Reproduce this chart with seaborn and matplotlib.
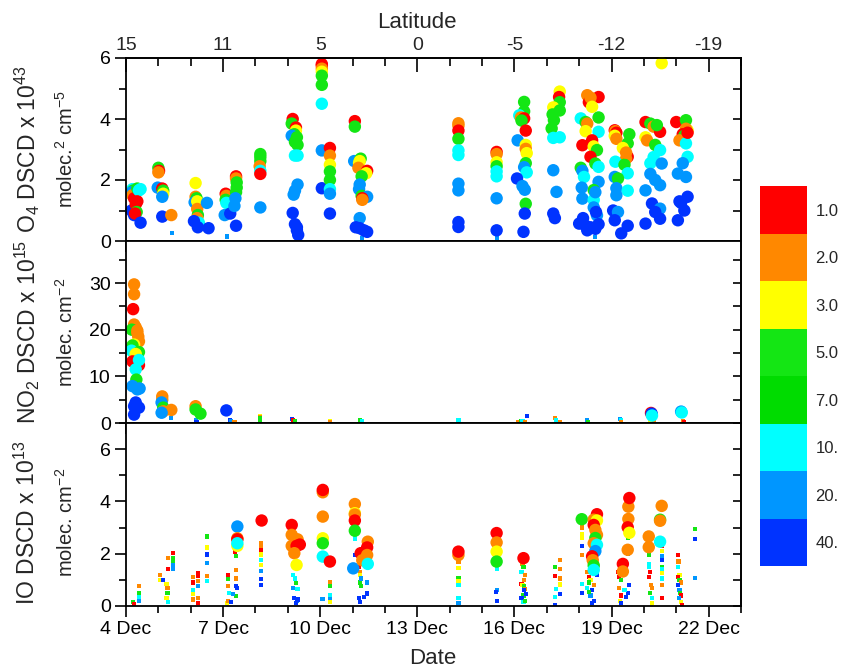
import numpy as np
import pandas as pd
import matplotlib
matplotlib.use("Agg")
import matplotlib.pyplot as plt
import seaborn as sns
from matplotlib.colors import ListedColormap, BoundaryNorm
from matplotlib.cm import ScalarMappable
from matplotlib.ticker import FixedLocator, MultipleLocator

# ---------------- categories / labels ----------------
elev_levels = [1, 2, 3, 5, 7, 10, 20, 40]
elev_labels = ["1.0", "2.0", "3.0", "5.0", "7.0", "10.", "20.", "40."]
elev_colors = ["#FF0000", "#FF8800", "#FFFF00", "#14E614", "#00DC00",
               "#00FFFF", "#0096FF", "#0033FF"]
date_ticks = [4, 7, 10, 13, 16, 19, 22]
date_labels = ["4 Dec", "7 Dec", "10 Dec", "13 Dec", "16 Dec", "19 Dec", "22 Dec"]
lat_labels = ["15", "11", "5", "0", "-5", "-12", "-19"]

# ---------------- O4 (big circles) ----------------
o4_day = [
    4.20, 4.22, 4.18, 4.20, 4.25, 4.17, 4.25, 4.35, 4.40, 4.35, 4.30, 4.33, 4.28, 4.45, 4.45,
    5.00, 5.02, 5.00, 4.98, 5.12, 5.15, 5.15, 5.12, 5.12, 5.40,
    6.15, 6.15, 6.18, 6.12, 6.20, 6.20, 6.22, 6.20, 6.25, 6.10, 6.22, 6.50, 6.55,
    7.08, 7.10, 7.08, 7.10, 7.05, 7.22, 7.40, 7.40, 7.42, 7.42, 7.40, 7.38, 7.35, 7.40,
    8.15, 8.15, 8.15, 8.13, 8.15, 8.15, 8.15,
    9.15, 9.12, 9.25, 9.25, 9.20, 9.12, 9.28, 9.22, 9.30, 9.22, 9.30, 9.30, 9.22, 9.18, 9.15, 9.22, 9.28, 9.28, 9.32,
    10.05, 10.05, 10.05, 10.05, 10.05, 10.05, 10.05, 10.05, 10.05,
    10.30, 10.30, 10.30, 10.30, 10.30, 10.30, 10.30, 10.30,
    11.07, 11.07, 11.05, 11.25, 11.22, 11.20, 11.18, 11.45, 11.42, 11.28, 11.22, 11.20, 11.28, 11.45, 11.30, 11.30, 11.22, 11.10, 11.22, 11.35, 11.45,
    14.27, 14.27, 14.27, 14.27, 14.27, 14.27, 14.27, 14.27, 14.27, 14.27,
    15.45, 15.45, 15.45, 15.45, 15.45, 15.45, 15.45, 15.45,
    16.30, 16.30, 16.15, 16.20, 16.30, 16.22, 16.35, 16.10, 16.35, 16.35, 16.38, 16.35, 16.30, 16.38, 16.08, 16.25, 16.32, 16.35, 16.32, 16.28,
    17.40, 17.38, 17.40, 17.20, 17.40, 17.18, 17.22, 17.15, 17.20, 17.40, 17.20, 17.30, 17.20, 17.25,
    18.25, 18.60, 18.30, 18.35, 18.40, 18.05, 18.60, 18.20, 18.25, 18.60, 18.20, 18.10, 18.40, 18.45, 18.55, 18.35, 18.50,
    18.60, 18.05, 18.10, 18.60, 18.15, 18.45, 18.10, 18.45, 18.55, 18.00, 18.20, 18.35, 18.60, 18.50, 18.25, 18.45,
    18.08, 18.50, 18.52, 18.12,
    19.10, 19.12, 19.15, 19.55, 19.10, 19.15, 19.50, 19.50, 19.45, 19.12, 19.40, 19.50, 19.10, 19.20, 19.15, 19.50,
    19.15, 19.05, 19.20, 19.10, 19.50, 19.30, 19.35, 19.45,
    20.05, 20.20, 20.30, 20.50, 20.05, 20.10, 20.35, 20.50, 20.30, 20.20, 20.55, 20.20, 20.35, 20.50, 20.05, 20.25,
    20.50, 20.35, 20.50, 20.05, 20.55, 20.40,
    21.00, 21.30, 21.35, 21.30, 21.20, 21.25, 21.10, 21.30, 21.35, 21.20, 21.05, 21.30, 21.35, 21.10, 21.15, 21.05, 21.25, 21.35,
]
o4_val = [
    1.70, 1.65, 1.60, 1.50, 1.40, 1.00, 0.85, 1.72, 1.66, 1.30, 1.20, 0.95, 0.90, 1.70, 0.60,
    2.40, 2.30, 2.25, 1.75, 1.72, 1.65, 1.55, 1.45, 0.80, 0.85,
    1.90, 1.45, 1.40, 1.27, 1.30, 1.05, 0.85, 0.75, 0.60, 0.65, 0.45, 1.25, 0.42,
    1.55, 1.48, 1.35, 1.25, 0.85, 0.90, 2.12, 2.05, 1.92, 1.75, 1.60, 1.40, 1.15, 0.50,
    2.85, 2.75, 2.62, 2.45, 2.30, 2.20, 1.10,
    4.00, 3.85, 3.72, 3.62, 3.50, 3.45, 3.40, 3.25, 3.15, 2.80, 2.80, 1.85, 1.65, 1.52, 0.92, 0.55, 0.45, 0.35, 0.20,
    5.80, 5.75, 5.65, 5.55, 5.42, 5.12, 4.50, 2.97, 1.73,
    3.05, 2.80, 2.50, 2.28, 2.00, 1.70, 1.55, 0.90,
    3.93, 3.75, 2.62, 2.70, 2.62, 2.55, 2.40, 2.30, 2.22, 2.12, 1.85, 1.70, 1.48, 1.45, 1.40, 1.35, 0.75, 0.45, 0.42, 0.35, 0.30,
    3.86, 3.78, 3.62, 3.35, 2.97, 2.82, 1.88, 1.66, 0.62, 0.46,
    2.92, 2.85, 2.58, 2.45, 2.28, 2.12, 1.40, 0.35,
    4.56, 4.25, 4.12, 4.05, 4.02, 3.95, 3.62, 3.30, 3.15, 3.02, 2.88, 2.55, 2.42, 2.25, 2.05, 1.80, 1.68, 1.22, 0.90, 0.30,
    4.90, 4.72, 4.55, 4.38, 4.28, 4.15, 3.96, 3.69, 3.38, 3.40, 2.32, 1.61, 0.90, 0.75,
    4.78, 4.72, 4.55, 4.70, 4.40, 4.02, 4.05, 3.90, 3.85, 3.58, 3.60, 3.14, 3.30, 3.10, 2.98, 2.76, 2.54,
    2.43, 2.40, 2.30, 1.94, 2.10, 1.67, 1.39, 1.35, 0.84, 0.57, 0.50, 0.45, 0.55, 0.40, 0.35, 1.10,
    1.75, 1.60, 0.95, 0.75,
    3.63, 3.60, 3.55, 3.50, 3.45, 3.35, 3.20, 2.76, 2.70, 2.60, 2.50, 2.22, 2.10, 2.05, 1.73, 1.65,
    1.50, 1.00, 0.95, 0.68, 0.50, 0.25, 3.05, 2.90,
    3.90, 3.85, 3.75, 3.58, 3.40, 3.30, 3.15, 2.98, 2.75, 2.55, 2.54, 2.20, 2.00, 1.83, 1.66, 1.23,
    1.06, 0.95, 0.73, 0.57, 5.83, 3.80,
    3.90, 3.96, 3.63, 3.68, 3.50, 3.45, 3.30, 3.20, 2.76, 2.55, 2.21, 2.10, 1.45, 1.30, 1.25, 0.68, 1.00, 3.55,
]
o4_elev = [
    10, 5, 20, 2, 1, 40, 40, 5, 10, 1, 1, 5, 1, 10, 40,
    5, 1, 2, 20, 1, 5, 3, 20, 40, 2,
    3, 2, 5, 20, 3, 2, 5, 2, 10, 40, 40, 20, 40,
    1, 2, 5, 10, 20, 40, 1, 2, 5, 5, 5, 20, 20, 40,
    5, 5, 5, 2, 10, 1, 20,
    1, 5, 1, 3, 5, 20, 5, 5, 5, 10, 10, 20, 20, 20, 40, 40, 40, 40, 40,
    1, 1, 2, 3, 5, 5, 10, 20, 40,
    1, 2, 3, 5, 5, 10, 20, 40,
    1, 5, 20, 5, 3, 3, 2, 1, 3, 5, 20, 20, 5, 20, 1, 2, 20, 40, 40, 40, 40,
    2, 2, 1, 5, 10, 10, 20, 20, 40, 40,
    1, 2, 3, 5, 10, 10, 20, 40,
    5, 5, 10, 2, 1, 5, 1, 20, 3, 2, 3, 5, 20, 10, 40, 20, 20, 5, 40, 40,
    3, 1, 5, 3, 5, 5, 5, 5, 10, 10, 20, 20, 40, 40,
    2, 1, 1, 2, 3, 10, 5, 5, 2, 10, 3, 1, 1, 3, 5, 1, 5,
    10, 5, 20, 20, 10, 5, 20, 10, 20, 40, 40, 40, 40, 40, 40, 20,
    20, 20, 40, 40,
    1, 2, 1, 5, 3, 2, 5, 1, 2, 10, 5, 10, 20, 5, 20, 10,
    20, 40, 20, 40, 40, 40, 3, 2,
    1, 5, 2, 1, 3, 2, 5, 10, 10, 10, 20, 20, 20, 20, 20, 40,
    20, 40, 40, 40, 3, 5,
    1, 5, 3, 2, 1, 5, 2, 10, 10, 20, 20, 20, 40, 40, 40, 40, 40, 1,
]
# O4 small squares
o4s_day = [5.41, 7.11, 11.28, 15.45, 18.50]
o4s_val = [0.26, 0.15, 0.11, 0.10, 0.12]
o4s_elev = [20, 20, 20, 20, 20]

# ---------------- NO2 ----------------
no2_day = [
    4.25, 4.25, 4.22, 4.25, 4.30, 4.18, 4.35, 4.35, 4.38, 4.40, 4.25, 4.20, 4.17, 4.40,
    4.30, 4.20, 4.40, 4.40, 4.30, 4.32, 4.20, 4.35, 4.42, 4.30, 4.25, 4.40, 4.25,
    5.12, 5.12, 5.10, 5.15, 5.15, 5.40, 5.10,
    6.15, 6.15, 6.30,
    7.10,
    20.22, 20.24, 20.25,
    21.15, 21.17,
]
no2_val = [
    29.7, 27.6, 24.4, 21.1, 20.5, 20.0, 19.8, 19.3, 18.5, 17.5, 16.8, 16.6, 15.5, 15.2,
    14.8, 13.2, 12.4, 13.5, 11.5, 9.3, 7.9, 7.2, 7.4, 4.4, 3.6, 3.3, 1.8,
    5.7, 5.0, 4.4, 3.3, 2.5, 2.8, 2.2,
    3.6, 2.9, 2.0,
    2.7,
    2.15, 2.0, 1.6,
    2.45, 2.25,
]
no2_elev = [
    2, 2, 1, 2, 2, 5, 2, 2, 2, 2, 3, 5, 10, 5,
    3, 1, 1, 10, 10, 5, 20, 20, 20, 40, 40, 40, 40,
    2, 2, 20, 5, 2, 2, 20,
    2, 5, 5,
    40,
    1, 40, 10,
    20, 10,
]
no2s_day = [5.40, 6.15, 6.18, 7.22, 7.25, 7.35, 8.15, 8.15, 8.15, 8.15, 9.12, 9.15, 9.22,
            10.30, 10.30, 11.23, 11.30, 14.27, 16.10, 16.20, 16.25, 16.38, 16.32,
            17.25, 17.28, 17.40, 18.25, 18.28, 19.25, 19.28, 19.30, 20.20, 20.30,
            21.20, 21.25]
no2s_val = [1.1, 0.6, 0.3, 0.7, 0.5, 0.2, 1.5, 1.3, 1.0, 0.6, 0.9, 0.6, 0.4,
            0.35, 0.15, 0.6, 0.5, 0.6, 0.3, 0.5, 0.5, 1.5, 0.2,
            1.1, 0.7, 0.3, 0.6, 0.3, 0.9, 0.6, 0.25, 0.3, 0.3,
            0.5, 0.25]
no2s_elev = [20, 20, 40, 40, 20, 2, 3, 2, 5, 5, 40, 1, 5,
             3, 2, 5, 10, 10, 2, 5, 10, 40, 2,
             2, 10, 2, 20, 5, 20, 10, 2, 3, 2,
             2, 1]

# ---------------- IO ----------------
io_day = [
    7.44, 7.44, 7.44, 7.44, 7.44,
    8.19,
    9.12, 9.12, 9.30, 9.12, 9.27, 9.37, 9.20, 9.27,
    10.08, 10.08, 10.08, 10.08, 10.08, 10.08, 10.30,
    11.07, 11.07, 11.07, 11.07, 11.07, 11.02,
    11.25, 11.30, 11.47, 11.45, 11.45, 11.47,
    14.27, 14.27,
    15.45, 15.45, 15.45, 15.45,
    16.28,
    18.08,
    18.55, 18.45, 18.55, 18.45, 18.50, 18.55, 18.50, 18.45, 18.55, 18.50, 18.40, 18.42, 18.45, 18.45,
    19.52, 19.55, 19.52, 19.50, 19.55, 19.50, 19.35, 19.35,
    20.15, 20.15, 20.55, 20.50, 20.50, 20.50,
]
io_val = [
    3.04, 2.59, 2.55, 2.30, 2.40,
    3.27,
    3.10, 2.72, 2.55, 2.30, 2.30, 2.35, 2.02, 1.57,
    4.35, 4.44, 3.42, 2.59, 2.40, 1.89, 1.70,
    3.90, 3.55, 3.50, 3.27, 2.88, 1.44,
    2.02, 1.75, 2.46, 2.24, 1.95, 1.61,
    1.95, 2.08,
    2.79, 2.43, 2.08, 1.70,
    1.83,
    3.32,
    3.51, 3.30, 3.27, 3.10, 2.91, 2.72, 2.60, 2.40, 2.34, 2.10, 1.90, 1.75, 1.55, 1.38,
    3.80, 4.13, 3.33, 3.01, 2.80, 2.15, 1.61, 1.32,
    2.66, 2.25, 3.83, 3.30, 3.26, 2.46,
]
io_elev = [
    20, 2, 1, 3, 10,
    1,
    1, 2, 2, 2, 1, 1, 2, 3,
    2, 1, 2, 3, 5, 10, 1,
    2, 3, 2, 1, 5, 20,
    1, 2, 2, 1, 2, 10,
    2, 1,
    1, 2, 3, 5,
    1,
    5,
    1, 2, 3, 1, 2, 2, 5, 2, 10, 20, 1, 2, 5, 10,
    2, 1, 2, 1, 3, 2, 1, 2,
    2, 2, 2, 5, 2, 10,
]
ios_day = [
    4.40, 4.40, 4.40, 4.22, 4.25, 4.40,
    5.05, 5.08, 5.05, 5.30, 5.30, 5.15, 5.25, 5.28, 5.28, 5.25, 5.30, 5.45, 5.45, 5.45, 5.45, 5.45,
    6.07, 6.07, 6.07, 6.07, 6.07, 6.22, 6.22, 6.22, 6.22, 6.22, 6.22, 6.50, 6.50, 6.50, 6.50, 6.50, 6.50,
    7.12, 7.15, 7.15, 7.15, 7.18, 7.15, 7.40, 7.40, 7.40, 7.42, 7.40, 7.38, 7.40, 7.30, 7.25,
    8.16, 8.16, 8.16, 8.16, 8.16, 8.16, 8.16, 8.16, 8.16,
    9.15, 9.15, 9.22, 9.25, 9.15, 9.30, 9.18, 9.28, 9.25, 9.30,
    10.07, 10.30, 10.30, 10.30, 10.30, 10.30,
    11.07, 11.07, 11.20, 11.22, 11.22, 11.22, 11.25, 11.20, 11.22, 11.45, 11.45, 11.35, 11.25,
    14.27, 14.27, 14.27, 14.27, 14.27, 14.27, 14.27,
    15.45, 15.45, 15.45, 15.42, 15.45,
    16.25, 16.28, 16.22, 16.32, 16.30, 16.22, 16.25, 16.30, 16.32, 16.30, 16.28, 16.22, 16.28, 16.32, 16.35,
    17.40, 17.25, 17.40, 17.25, 17.40, 17.40, 17.28, 17.25, 17.40, 17.25,
    18.08, 18.08, 18.08, 18.08, 18.08, 18.08, 18.08, 18.25, 18.30, 18.35, 18.30, 18.25, 18.40, 18.35, 18.45,
    18.40, 18.30, 18.45, 18.55,
    19.20, 19.25, 19.22, 19.30, 19.55, 19.50, 19.22, 19.28, 19.25, 19.30, 19.52, 19.50, 19.50, 19.40, 19.45,
    20.15, 20.15, 20.15, 20.18, 20.15, 20.22, 20.25, 20.20, 20.25, 20.25,
    20.55, 20.55, 20.55, 20.55, 20.55, 20.55, 20.55, 20.55, 20.55, 20.55,
    21.05, 21.07, 21.05, 21.10, 21.05, 21.10, 21.15, 21.05, 21.10, 21.12, 21.15, 21.08, 21.15, 21.18,
    21.58, 21.58, 21.58,
]
ios_val = [
    0.77, 0.50, 0.35, 0.15, 0.08, 0.20,
    1.19, 1.00, 1.00, 1.83, 1.41, 1.00, 0.85, 0.70, 0.50, 0.30, 0.15, 2.04, 1.85, 1.70, 1.55, 1.40,
    1.10, 0.90, 0.62, 0.45, 0.25, 1.25, 1.15, 0.95, 0.75, 0.30, 0.10, 2.66, 2.24, 1.97, 1.66, 1.15, 0.95,
    0.10, 1.20, 1.03, 0.75, 0.50, 0.20, 1.38, 1.05, 0.75, 0.68, 0.38, 2.08, 1.90, 0.45, 0.15,
    2.40, 2.30, 2.14, 1.97, 1.75, 1.57, 1.35, 1.03, 0.80,
    1.60, 1.18, 1.05, 0.87, 0.68, 0.65, 0.30, 0.20, 0.10, 0.25,
    0.28, 0.90, 0.75, 0.42, 0.25, 0.15,
    2.58, 1.95, 1.50, 1.30, 1.20, 0.90, 0.75, 0.30, 0.15, 0.90, 0.48, 0.36, 1.05,
    1.70, 1.44, 1.05, 0.95, 0.80, 0.30, 0.10,
    1.50, 1.40, 0.60, 0.55, 0.20,
    1.60, 1.50, 1.30, 1.20, 1.00, 0.85, 0.80, 0.75, 0.65, 0.60, 0.40, 0.30, 0.15, 0.20, 0.45,
    1.75, 1.50, 1.40, 1.15, 1.05, 0.82, 0.65, 0.35, 0.45, 0.05,
    3.00, 2.75, 2.60, 2.30, 1.95, 0.85, 0.50, 1.30, 1.10, 1.00, 0.90, 0.70, 0.60, 0.40, 0.20,
    0.10, 0.55, 0.80, 1.20,
    1.30, 1.25, 1.10, 1.00, 0.80, 0.50, 0.70, 0.40, 0.20, 0.10, 2.60, 2.30, 2.00, 0.60, 0.35,
    1.95, 1.60, 1.50, 1.30, 1.10, 0.80, 0.70, 0.50, 0.30, 0.10,
    2.30, 2.10, 1.90, 1.75, 1.50, 1.40, 1.25, 1.05, 0.80, 0.30,
    1.95, 1.70, 1.50, 1.20, 1.10, 1.00, 0.90, 0.80, 0.60, 0.50, 0.40, 0.30, 0.15, 0.05,
    2.96, 2.55, 1.06,
]
ios_elev = [
    2, 5, 10, 5, 1, 20,
    2, 5, 3, 2, 1, 40, 3, 2, 5, 3, 10, 1, 5, 5, 20, 20,
    2, 1, 10, 3, 2, 1, 1, 2, 20, 2, 1, 5, 3, 40, 20, 2, 10,
    3, 1, 5, 2, 10, 2, 2, 2, 40, 40, 5, 1, 5, 20, 40,
    2, 2, 1, 3, 10, 3, 20, 40, 40,
    5, 10, 10, 5, 20, 10, 40, 20, 40, 40,
    20, 2, 5, 10, 20, 3,
    10, 40, 1, 2, 3, 5, 5, 40, 40, 20, 40, 40, 20,
    2, 3, 5, 3, 10, 10, 20,
    10, 10, 20, 40, 40,
    2, 5, 10, 2, 2, 1, 3, 5, 2, 40, 5, 40, 10, 5, 40,
    2, 5, 2, 1, 2, 3, 10, 10, 40, 40,
    2, 3, 3, 40, 2, 10, 40, 2, 1, 3, 5, 10, 40, 20, 40,
    40, 5, 2, 40,
    1, 2, 1, 5, 40, 40, 2, 1, 3, 40, 5, 10, 20, 10, 40,
    5, 10, 10, 1, 1, 2, 2, 5, 10, 3,
    1, 3, 20, 40, 5, 10, 3, 10, 2, 1,
    1, 2, 10, 3, 1, 5, 2, 40, 20, 5, 1, 20, 3, 1,
    5, 40, 20,
]

# ---------------- styling ----------------
sns.set_style("white")
plt.rcParams["font.family"] = ["Liberation Sans", "DejaVu Sans"]
plt.rcParams["mathtext.fontset"] = "custom"
plt.rcParams["mathtext.rm"] = "Liberation Sans"
plt.rcParams["mathtext.it"] = "Liberation Sans:italic"
plt.rcParams["mathtext.bf"] = "Liberation Sans:bold"

palette = dict(zip(elev_levels, elev_colors))
BIG, SMALL = 80, 9

fig = plt.figure(figsize=(8.42, 6.69), dpi=100)
FW, FH = 842.0, 669.0
L, R = 126, 741


def rect(top, bot):
    return [L / FW, 1 - bot / FH, (R - L) / FW, (bot - top) / FH]


ax1 = fig.add_axes(rect(58, 241))
ax2 = fig.add_axes(rect(241, 423), sharex=ax1)
ax3 = fig.add_axes(rect(423, 606), sharex=ax1)


def draw(ax, bd, bv, be, sd, sv, se):
    dfs = pd.DataFrame({"day": sd, "val": sv, "elev": se})
    dfb = pd.DataFrame({"day": bd, "val": bv, "elev": be})
    sns.scatterplot(data=dfs, x="day", y="val", hue="elev", palette=palette,
                    marker="s", s=SMALL, linewidth=0, legend=False, ax=ax)
    sns.scatterplot(data=dfb, x="day", y="val", hue="elev", palette=palette,
                    marker="o", s=BIG, linewidth=0, legend=False, ax=ax,
                    clip_on=False)


draw(ax1, o4_day, o4_val, o4_elev, o4s_day, o4s_val, o4s_elev)
draw(ax2, no2_day, no2_val, no2_elev, no2s_day, no2s_val, no2s_elev)
draw(ax3, io_day, io_val, io_elev, ios_day, ios_val, ios_elev)

ylims = [(0, 6), (0, 39), (0, 7)]
ymaj = [[0, 2, 4, 6], [0, 10, 20, 30], [0, 2, 4, 6]]
ymin = [1, 5, 1]
TS = 14
for ax, yl, ym, mn in zip([ax1, ax2, ax3], ylims, ymaj, ymin):
    ax.set_xlim(4, 23)
    ax.set_ylim(*yl)
    ax.set_xlabel("")
    ax.set_ylabel("")
    ax.xaxis.set_major_locator(FixedLocator(date_ticks))
    ax.xaxis.set_minor_locator(MultipleLocator(1))
    ax.yaxis.set_major_locator(FixedLocator(ym))
    ax.yaxis.set_minor_locator(MultipleLocator(mn))
    ax.tick_params(which="major", direction="out", length=8, width=1.2,
                   labelsize=TS, bottom=True, left=True, top=False, right=False,
                   color="black", labelcolor="black", pad=3)
    ax.tick_params(which="minor", direction="out", length=5, width=1.2,
                   bottom=True, left=True, top=False, right=False, color="black")
    for sp in ax.spines.values():
        sp.set_linewidth(1.3)
        sp.set_color("black")
        sp.set_visible(True)
    sec = ax.secondary_yaxis("right")
    sec.yaxis.set_major_locator(FixedLocator(ym))
    sec.yaxis.set_minor_locator(MultipleLocator(mn))
    sec.tick_params(which="both", direction="in", length=6, width=1.2,
                    labelright=False, color="black")
    sec.spines["right"].set_linewidth(1.3)

ax3.set_xticks(date_ticks, labels=date_labels)
ax1.tick_params(axis="x", labelbottom=False)
ax2.tick_params(axis="x", labelbottom=False)

top = ax1.secondary_xaxis("top")
top.xaxis.set_major_locator(FixedLocator(date_ticks))
top.set_xticks(date_ticks, labels=lat_labels)
top.xaxis.set_minor_locator(MultipleLocator(1))
top.tick_params(which="major", direction="in", length=10, width=1.2,
                labelsize=TS, pad=3, color="black")
top.tick_params(which="minor", direction="in", length=6, width=1.2, color="black")
top.spines["top"].set_linewidth(1.3)

fig.text(417 / FW, 1 - 22 / FH, "Latitude", ha="center", va="center", fontsize=16)
fig.text(433 / FW, 1 - 658 / FH, "Date", ha="center", va="center", fontsize=16)

# y labels (two lines each)
lab1 = ["O$_4$ DSCD x 10$^{43}$", "NO$_2$ DSCD x 10$^{15}$", "IO DSCD x 10$^{13}$"]
lab2 = ["molec.$^2$ cm$^{-5}$", "molec. cm$^{-2}$", "molec. cm$^{-2}$"]
centers = [(58 + 241) / 2, (241 + 423) / 2, (423 + 606) / 2 + 8]
for c, t1, t2 in zip(centers, lab1, lab2):
    fig.text(27 / FW, 1 - c / FH, t1, rotation=90, ha="center", va="center", fontsize=16.5)
    fig.text(66 / FW, 1 - c / FH, t2, rotation=90, ha="center", va="center", fontsize=14.5)

# colour bar
cax = fig.add_axes([760 / FW, 1 - 566 / FH, 47 / FW, 380 / FH])
cmap = ListedColormap(elev_colors[::-1])
norm = BoundaryNorm(np.arange(len(elev_levels) + 1), cmap.N)
cb = fig.colorbar(ScalarMappable(norm=norm, cmap=cmap), cax=cax,
                  ticks=np.arange(len(elev_levels)) + 0.5)
cb.set_ticklabels(elev_labels[::-1])
cb.minorticks_off()
cb.outline.set_visible(False)
cax.tick_params(which="both", length=0, pad=6, labelsize=12)

fig.savefig("out.png", dpi=100)
